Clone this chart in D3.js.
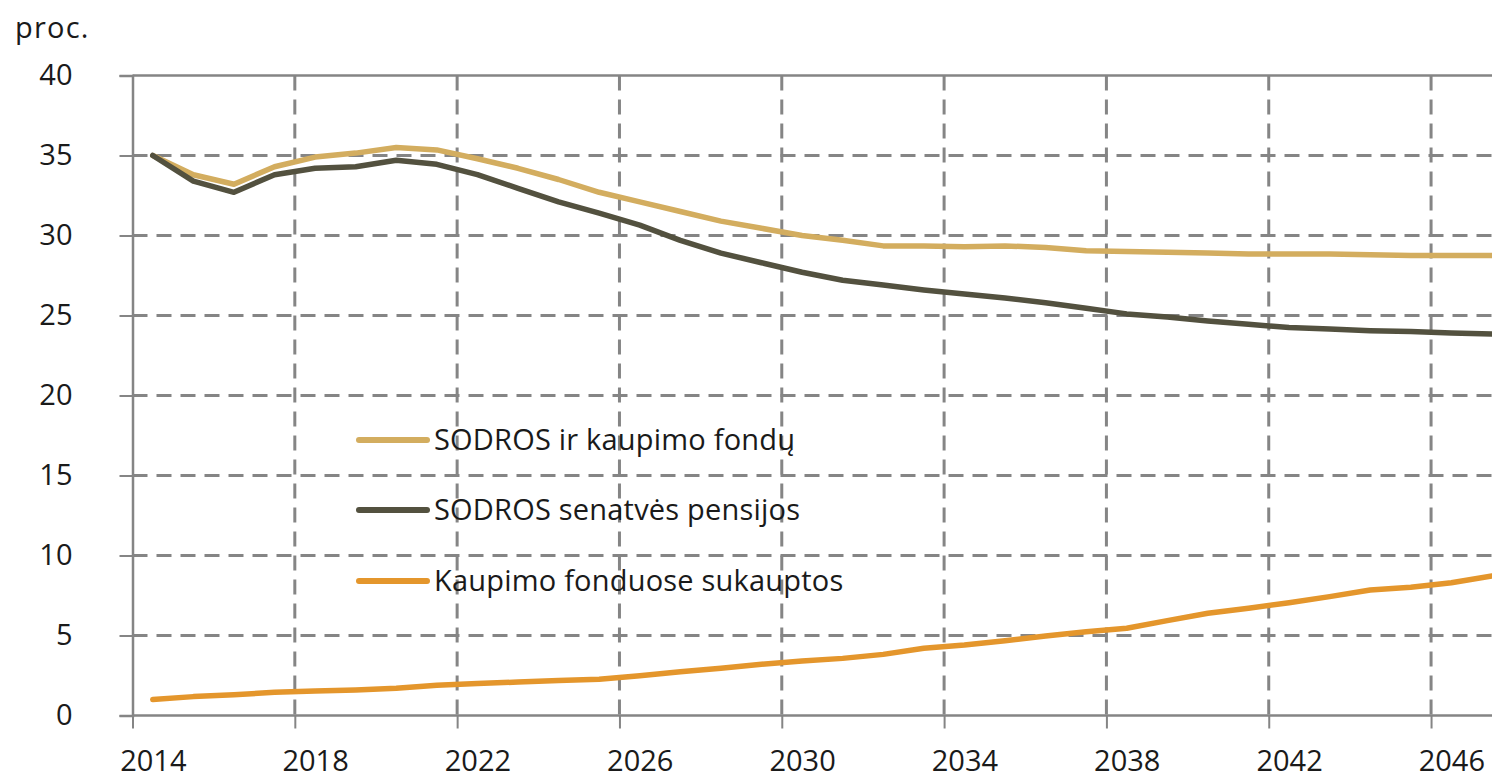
<!DOCTYPE html>
<html>
<head>
<meta charset="utf-8">
<style>
  body { margin: 0; background: #fff; }
  text { font-family: "Open Sans", sans-serif; fill: #1a1a1a; }
</style>
</head>
<body>
<svg></svg>
<script src="https://cdn.jsdelivr.net/npm/d3@7"></script>
<script>

  const years = d3.range(2014, 2048)

  const sodraIrFondai = [35.0, 33.8, 33.2, 34.3, 34.9, 35.15, 35.5, 35.35, 34.8, 34.2,
    33.5, 32.7, 32.1, 31.5, 30.9, 30.45, 30.0, 29.7, 29.35, 29.35,
    29.3, 29.35, 29.25, 29.05, 29.0, 28.95, 28.9, 28.85, 28.85, 28.85,
    28.8, 28.75, 28.75, 28.75]

  const sodraSenatves = [35.0, 33.4, 32.7, 33.8, 34.2, 34.3, 34.7, 34.45, 33.8, 32.95,
    32.1, 31.4, 30.65, 29.7, 28.9, 28.3, 27.7, 27.2, 26.9, 26.6,
    26.35, 26.1, 25.8, 25.45, 25.1, 24.9, 24.65, 24.45, 24.25, 24.15,
    24.05, 24.0, 23.9, 23.85]

  const kaupimoFondai = [1.0, 1.18, 1.3, 1.45, 1.53, 1.6, 1.7, 1.89, 2.0, 2.09,
    2.18, 2.26, 2.49, 2.74, 2.95, 3.2, 3.4, 3.57, 3.82, 4.2,
    4.4, 4.67, 4.97, 5.24, 5.45, 5.93, 6.39, 6.7, 7.05, 7.43,
    7.84, 8.01, 8.3, 8.72]

  const seriesNames = ["SODROS ir kaupimo fondų", "SODROS senatvės pensijos", "Kaupimo fonduose sukauptos"]
  const yTicks = [0, 5, 10, 15, 20, 25, 30, 35, 40]
  const xTicks = d3.range(2014, 2047, 4)

  const colors = {gold: "#d3ad5f", dark: "#53513f", orange: "#e4962c", grid: "#858585"}

  const width = 1492, height = 776

  const series = [
    {name: seriesNames[0], values: sodraIrFondai, color: colors.gold},
    {name: seriesNames[1], values: sodraSenatves, color: colors.dark},
    {name: seriesNames[2], values: kaupimoFondai, color: colors.orange}
  ]

  const xScale = d3.scaleLinear()
    .domain([2014, 2048])
    .range([132.5, 132.5 + 34 * 40.58])

  const yScale = d3.scaleLinear()
    .domain([0, 40])
    .range([715.5, 75.5])

  const svg = d3.select("svg")
    .attr("width", width)
    .attr("height", height)

  // grid
  const grid = svg.append("g")
  grid.selectAll(".hgrid")
    .data(yTicks.filter(d => d > 0 && d < 40))
    .enter().append("line")
    .attr("x1", xScale(2014)).attr("x2", width)
    .attr("y1", d => yScale(d)).attr("y2", d => yScale(d))
    .attr("stroke", colors.grid)
    .attr("stroke-width", 3)
    .attr("stroke-dasharray", "15,9")
  grid.selectAll(".vgrid")
    .data(xTicks.filter(d => d > 2014))
    .enter().append("line")
    .attr("x1", d => xScale(d)).attr("x2", d => xScale(d))
    .attr("y1", yScale(40)).attr("y2", yScale(0))
    .attr("stroke", colors.grid)
    .attr("stroke-width", 3)
    .attr("stroke-dasharray", "15,9")
  // top border
  grid.append("line")
    .attr("x1", xScale(2014)).attr("x2", width)
    .attr("y1", yScale(40)).attr("y2", yScale(40))
    .attr("stroke", colors.grid)
    .attr("stroke-width", 2.5)

  // axes
  const yAxis = d3.axisLeft(yScale)
    .tickValues(yTicks)
    .tickSize(13)
  const gy = svg.append("g")
    .attr("transform", `translate(${xScale(2014)},0)`)
    .call(yAxis)
  gy.select(".domain").attr("stroke", colors.grid).attr("stroke-width", 2.5)
  gy.selectAll(".tick line").attr("stroke", colors.grid).attr("stroke-width", 2)
  gy.selectAll(".tick text")
    .attr("font-family", "Open Sans")
    .style("font-size", "29px")
    .attr("fill", "#1a1a1a")
    .attr("text-anchor", "end")
    .attr("x", -60)

  const xAxis = d3.axisBottom(xScale)
    .tickValues(xTicks)
    .tickFormat(d3.format("d"))
    .tickSize(13)
    .tickSizeOuter(0)
  const gx = svg.append("g")
    .attr("transform", `translate(0,${yScale(0)})`)
    .call(xAxis)
  gx.select(".domain").attr("stroke", colors.grid).attr("stroke-width", 2.5)
    .attr("d", `M${xScale(2014)},0H${width}`)
  gx.selectAll(".tick line").attr("stroke", colors.grid).attr("stroke-width", 2)
  gx.selectAll(".tick text")
    .attr("font-family", "Open Sans")
    .style("font-size", "29px")
    .attr("fill", "#1a1a1a")
    .attr("x", xScale(2014.5) - xScale(2014))
    .attr("y", 0)
    .attr("dy", 0)
    .attr("transform", "translate(0,55)")

  svg.append("text")
    .attr("x", 15)
    .attr("y", 38)
    .style("font-size", "29px")
    .style("letter-spacing", "1.2px")
    .text("proc.")

  // lines
  const line = d3.line()
    .x((d, i) => xScale(years[i] + 0.5))
    .y(d => yScale(d))

  svg.selectAll(".series")
    .data(series)
    .enter().append("path")
    .attr("class", "series")
    .attr("d", d => line(d.values))
    .attr("fill", "none")
    .attr("stroke", d => d.color)
    .attr("stroke-width", 5.5)
    .attr("stroke-linejoin", "round")
    .attr("stroke-linecap", "round")

  // legend
  const legend = svg.append("g")
  const legendY = [440, 510, 581]
  legend.selectAll("line")
    .data(series)
    .enter().append("line")
    .attr("x1", 359).attr("x2", 427)
    .attr("y1", (d, i) => legendY[i]).attr("y2", (d, i) => legendY[i])
    .attr("stroke", d => d.color)
    .attr("stroke-width", 6)
    .attr("stroke-linecap", "round")
  legend.selectAll("text")
    .data(series)
    .enter().append("text")
    .attr("x", 434)
    .attr("y", (d, i) => legendY[i] + 10)
    .style("font-size", "29px")
    .style("letter-spacing", "0.2px")
    .text(d => d.name)

</script>
</body>
</html>
